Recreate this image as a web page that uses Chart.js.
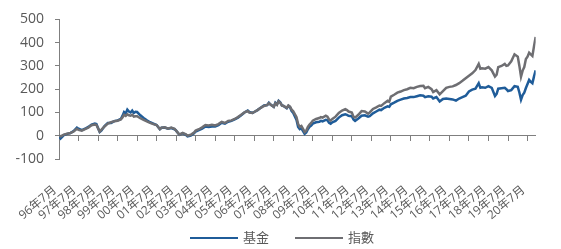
<!DOCTYPE html>
<html>
<head>
<meta charset="utf-8">
<script src="https://cdn.jsdelivr.net/npm/chart.js@4.4.0/dist/chart.umd.min.js"></script>
<style>
html,body{margin:0;padding:0;background:#fff;}
#wrap{position:relative;width:561px;height:249px;}
#legend{position:absolute;left:0;top:229px;width:561px;height:18px;font-family:"Noto Sans CJK TC","Open Sans",sans-serif;font-size:13px;line-height:16px;color:#595959;}
.li{position:absolute;top:0;height:16px;white-space:nowrap;}
.ln{position:absolute;top:8px;width:48px;height:2px;}
.tx{position:absolute;top:0;}
</style>
</head>
<body>
<div id="wrap"><canvas id="c" width="561" height="249"></canvas><div id="legend"></div></div>
<script>
// months since Jul-1996
const months = [0,1,3,5,7,9,11,12,14,16,18,20,22,23,25,26,28,30,32,34,36,38,39,40,41,42,43,44,45,46,47,48,50,52,54,56,58,60,62,63,65,67,69,71,72,74,76,78,79,81,83,84,86,88,90,92,94,96,98,100,102,104,106,108,110,112,114,116,117,119,120,122,124,126,128,129,130,132,133,134,135,136,137,138,140,141,142,143,144,146,147,148,149,150,151,152,153,154,155,156,158,160,161,162,164,165,166,167,168,170,172,174,176,177,178,180,181,182,184,186,188,190,191,193,195,197,198,200,202,203,204,206,208,210,212,214,216,218,220,222,224,225,227,229,230,232,234,236,238,240,242,244,246,248,250,252,254,256,258,259,260,262,264,266,268,269,270,272,274,275,276,278,280,282,283,284,285,286,287,288,289,290,291,292,293];
const fund  = [0,-12,3,8,11,20,35,30,24,30,38,48,52,50,16,22,42,55,55,63,66,72,85,102,96,112,104,100,108,98,103,102,88,76,66,58,52,46,28,34,35,30,33,28,22,4,10,4,-3,1,10,18,24,30,40,38,40,40,46,56,52,60,64,70,78,88,100,108,102,98,102,110,120,130,132,142,134,124,142,135,150,144,130,128,118,128,122,106,98,68,38,28,32,20,8,14,28,38,44,52,58,60,64,62,68,66,56,52,58,64,78,88,92,90,86,84,70,64,74,86,88,82,84,96,104,112,110,120,126,124,135,142,150,155,160,162,166,166,170,174,172,166,170,168,160,166,147,158,160,158,156,151,160,166,172,190,198,202,226,206,208,206,213,206,171,180,202,204,206,200,192,196,213,210,186,155,175,185,205,222,240,232,226,255,281];
const index = [0,-3,5,9,12,18,30,25,22,28,35,45,48,46,18,25,40,52,58,62,64,70,78,90,85,92,88,86,90,82,84,84,75,68,62,55,50,46,28,35,36,30,35,30,22,5,12,6,0,4,14,22,28,36,46,44,47,44,50,60,55,64,66,72,80,90,100,106,100,98,102,110,120,128,132,140,134,124,140,133,148,142,130,128,120,130,125,112,105,80,50,38,42,30,16,22,38,48,55,65,72,76,80,78,86,82,70,65,72,82,98,108,114,110,104,100,82,78,90,106,104,95,100,115,122,130,128,140,150,146,168,176,185,190,196,200,206,204,210,214,215,204,210,200,188,196,178,192,206,210,212,218,226,236,247,258,268,282,309,288,290,288,295,281,254,262,295,300,309,300,302,320,350,340,300,254,280,295,330,340,357,350,343,385,425];
const tickLabels = ['96年7月','97年7月','98年7月','99年7月','00年7月','01年7月','02年7月','03年7月','04年7月','05年7月','06年7月','07年7月','08年7月','09年7月','10年7月','11年7月','12年7月','13年7月','14年7月','15年7月','16年7月','17年7月','18年7月','19年7月','20年7月'];
const seriesNames = ['基金','指數'];

const BLUE = '#1f5c99';
const GRAY = '#6e6e72';
const AXIS = '#7f7f7f';
const TXT = '#595959';
const XMAX = 293;

const toPts = (arr) => months.map((m, i) => ({x: m, y: arr[i]}));

const chart = new Chart(document.getElementById('c'), {
  type: 'line',
  data: {
    datasets: [
      {label: seriesNames[0], data: toPts(fund), borderColor: BLUE, backgroundColor: BLUE, borderWidth: 2.5, pointRadius: 0, tension: 0, order: 1},
      {label: seriesNames[1], data: toPts(index), borderColor: GRAY, backgroundColor: GRAY, borderWidth: 2.5, pointRadius: 0, tension: 0, order: 0}
    ]
  },
  options: {
    responsive: false,
    animation: false,
    events: [],
    layout: {padding: {top: 4, right: 13, left: 0, bottom: 0}},
    plugins: {
      tooltip: {enabled: false},
      legend: {display: false}
    },
    scales: {
      x: {
        type: 'linear', min: 0, max: XMAX,
        border: {display: false},
        grid: {display: false, drawTicks: false},
        afterFit: (s) => { s.height = 90; },
        ticks: {
          stepSize: 12, includeBounds: false, autoSkip: false,
          maxRotation: 40, minRotation: 40, padding: 24, labelOffset: -4,
          color: TXT,
          font: {family: '"Open Sans", "Noto Sans CJK TC"', size: 12},
          callback: (v) => (v % 12 === 0 ? tickLabels[v / 12] : '')
        }
      },
      x0: {
        type: 'linear', min: 0, max: XMAX,
        position: {y: 0},
        border: {display: true, color: AXIS, width: 1},
        grid: {display: true, drawOnChartArea: false, drawTicks: true, tickLength: 5, color: AXIS, tickColor: AXIS, tickWidth: 1, lineWidth: 1},
        ticks: {display: false, stepSize: 12, includeBounds: false, autoSkip: false}
      },
      y: {
        min: -100, max: 500,
        border: {display: true, color: AXIS, width: 1},
        grid: {drawOnChartArea: false, drawTicks: true, tickLength: 4, color: AXIS},
        afterFit: (s) => { s.width = 59; },
        ticks: {
          stepSize: 100, padding: 11, color: TXT,
          font: {family: '"Open Sans"', size: 14}
        }
      }
    }
  }
});

// legend built from the chart's datasets
const legendPos = [{line: 190, text: 243}, {line: 295, text: 348}];
const lg = document.getElementById('legend');
chart.data.datasets.forEach((ds, i) => {
  const item = document.createElement('div');
  item.className = 'li';
  const ln = document.createElement('span');
  ln.className = 'ln';
  ln.style.left = legendPos[i].line + 'px';
  ln.style.background = ds.borderColor;
  const tx = document.createElement('span');
  tx.className = 'tx';
  tx.style.left = legendPos[i].text + 'px';
  tx.textContent = ds.label;
  item.appendChild(ln);
  item.appendChild(tx);
  lg.appendChild(item);
});
</script>
</body>
</html>
